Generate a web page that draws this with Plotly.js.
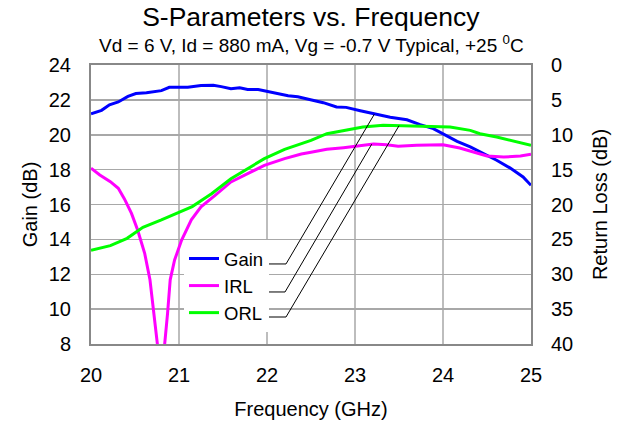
<!DOCTYPE html>
<html>
<head>
<meta charset="utf-8">
<script src="https://cdn.plot.ly/plotly-3.0.1.min.js"></script>
<style>html,body{margin:0;padding:0;background:#fff;}#chart{width:623px;height:428px;}</style>
</head>
<body>
<div id="chart"></div>
<script>
// ---- Data ----
const gainFreq = [20.0,20.12,20.21,20.31,20.42,20.51,20.63,20.8,20.89,21.1,21.25,21.39,21.48,21.59,21.69,21.78,21.9,22.01,22.13,22.24,22.35,22.5,22.64,22.79,22.9,23.06,23.23,23.4,23.59,23.74,23.89,24.0,24.16,24.31,24.46,24.61,24.76,24.91,25.0];
const gainDb   = [21.2,21.4,21.72,21.88,22.2,22.36,22.41,22.53,22.72,22.72,22.83,22.84,22.76,22.64,22.7,22.6,22.6,22.49,22.38,22.24,22.18,22.02,21.84,21.59,21.57,21.38,21.17,21.0,20.86,20.58,20.35,20.06,19.62,19.3,18.91,18.54,18.1,17.58,17.1];

const irlFreq = [20.0,20.1,20.22,20.31,20.38,20.46,20.53,20.61,20.67,20.72,20.8,20.87,20.9,20.95,21.03,21.14,21.25,21.41,21.59,21.78,21.97,22.2,22.39,22.5,22.68,22.87,23.06,23.21,23.36,23.49,23.7,24.0,24.19,24.34,24.5,24.69,24.88,25.0];
const irlDb   = [14.8,15.77,16.73,17.68,19.2,21.27,23.66,27.0,30.8,35.6,45,35.6,30.8,27.96,25.1,22.2,20.33,18.69,16.77,15.58,14.38,13.43,12.76,12.5,12.09,11.85,11.51,11.33,11.43,11.66,11.51,11.43,11.9,12.47,13.05,13.19,13.05,12.8];

const orlFreq = [20.0,20.22,20.41,20.59,20.8,20.97,21.15,21.31,21.37,21.59,21.78,21.97,22.2,22.39,22.5,22.68,22.87,23.09,23.32,23.63,23.85,24.08,24.31,24.42,24.61,24.8,25.0];
const orlDb   = [26.57,25.9,24.85,23.27,22.22,21.27,20.3,18.97,18.45,16.3,14.86,13.43,12.09,11.28,10.8,9.85,9.37,8.89,8.65,8.75,8.89,8.89,9.37,9.85,10.32,10.94,11.5];

const seriesNames = ["Gain","IRL","ORL"];
const xTicks = [20,21,22,23,24,25];
const chartTitle = "S-Parameters vs. Frequency";
const chartSubtitle = "Vd = 6 V, Id = 880 mA, Vg = -0.7 V Typical, +25 <sup>0</sup>C";

// ---- helpers ----
function interp(xs, ys, x){
  for(let i=0;i<xs.length-1;i++){
    if(x>=xs[i] && x<=xs[i+1]){
      const t=(x-xs[i])/(xs[i+1]-xs[i]);
      return ys[i]+t*(ys[i+1]-ys[i]);
    }
  }
  return ys[ys.length-1];
}

const FONT = "Liberation Sans, Arial, sans-serif";

const traces = [
  {x:gainFreq, y:gainDb, name:seriesNames[0], type:"scatter", mode:"lines", yaxis:"y",
   line:{color:"#0000ff", width:3}},
  {x:irlFreq, y:irlDb, name:seriesNames[1], type:"scatter", mode:"lines", yaxis:"y2",
   line:{color:"#ff00ff", width:3}},
  {x:orlFreq, y:orlDb, name:seriesNames[2], type:"scatter", mode:"lines", yaxis:"y2",
   line:{color:"#00ff00", width:3}}
];

// leader lines from legend to curves (end points lie on the curves)
const lead = {color:"#000000", width:1};
const gEndF = 23.22, iEndF = 23.19, oEndF = 23.5;
const shapes = [
  {type:"path", xref:"x", yref:"y", line:lead,
   path:`M21.99,12.59 L22.216,12.59 L${gEndF},${interp(gainFreq,gainDb,gEndF)}`},
  {type:"path", xref:"x", yref:"y2", line:lead,
   path:`M21.99,32.54 L22.205,32.54 L${iEndF},${interp(irlFreq,irlDb,iEndF)}`},
  {type:"path", xref:"x", yref:"y2", line:lead,
   path:`M22.01,36.13 L22.216,36.13 L${oEndF},${interp(orlFreq,orlDb,oEndF)}`}
];

const layout = {
  width:623, height:428,
  paper_bgcolor:"#ffffff", plot_bgcolor:"#ffffff",
  font:{family:FONT, color:"#000000", size:20},
  margin:{l:91, r:92, t:65, b:84, pad:0},
  title:{
    text:chartTitle,
    font:{family:FONT, size:26.5, color:"#000"},
    x:0.4995, xanchor:"center", xref:"paper",
    y:1-17/428, yanchor:"middle", yref:"container"
  },
  annotations:[
    {text:chartSubtitle, xref:"paper", yref:"paper", x:0.5, y:(344-44)/279,
     xanchor:"center", yanchor:"middle", showarrow:false,
     font:{family:FONT, size:19, color:"#000"}}
  ],
  xaxis:{
    range:[20,25], tickvals:xTicks, ticktext:xTicks.map(String),
    showgrid:true, gridcolor:"#bdbdbd", gridwidth:1.5,
    showline:true, linecolor:"#888888", linewidth:2, mirror:true,
    ticks:"outside", ticklen:12, tickcolor:"rgba(0,0,0,0)",
    tickfont:{size:20}, zeroline:false,
    title:{text:"Frequency (GHz)", font:{size:20}, standoff:17}
  },
  yaxis:{
    range:[8,24], dtick:2, tick0:8,
    showgrid:true, gridcolor:"#a8a8a8", gridwidth:1.5,
    showline:true, linecolor:"#888888", linewidth:2, mirror:true,
    ticks:"outside", ticklen:14, tickcolor:"rgba(0,0,0,0)",
    tickfont:{size:20}, zeroline:false,
    title:{text:"Gain (dB)", font:{size:20}, standoff:6}
  },
  yaxis2:{
    overlaying:"y", side:"right",
    range:[40,0], dtick:5, tick0:0,
    showgrid:false, showline:false, zeroline:false,
    ticks:"outside", ticklen:15, tickcolor:"rgba(0,0,0,0)",
    tickfont:{size:20},
    title:{text:"Return Loss (dB)", font:{size:20}, standoff:20}
  },
  showlegend:true,
  legend:{
    x:(184-91)/440, xanchor:"left", y:(344-240)/279, yanchor:"top",
    bgcolor:"#ffffff", borderwidth:0,
    font:{family:FONT, size:18.5, color:"#000"},
    itemwidth:30, tracegroupgap:0
  },
  shapes:shapes
};

Plotly.newPlot("chart", traces, layout, {staticPlot:true, displayModeBar:false});
</script>
</body>
</html>
